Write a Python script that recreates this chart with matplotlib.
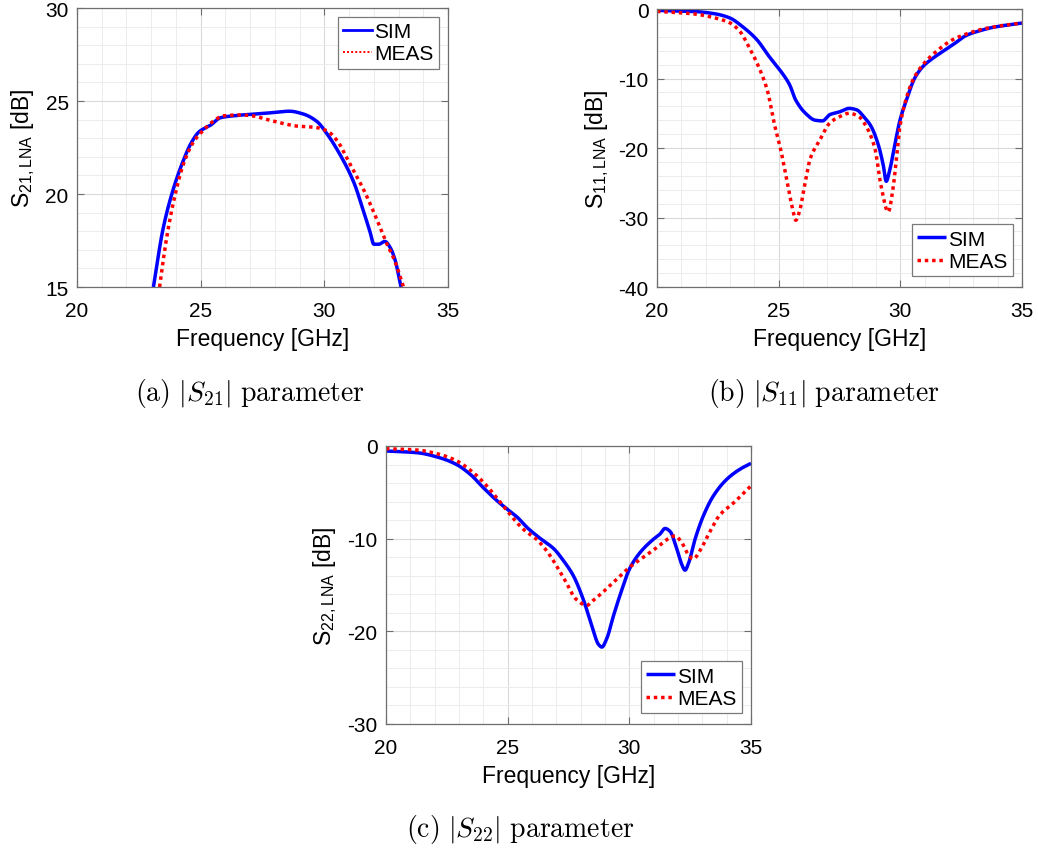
import numpy as np
import matplotlib
matplotlib.use("Agg")
import matplotlib.pyplot as plt
from matplotlib.ticker import MultipleLocator
from matplotlib.lines import Line2D

plt.rcParams['font.family'] = ['Liberation Sans', 'DejaVu Sans']
plt.rcParams['mathtext.fontset'] = 'custom'
plt.rcParams['mathtext.rm'] = 'Liberation Sans'
plt.rcParams['mathtext.it'] = 'Liberation Sans:italic'
plt.rcParams['axes.unicode_minus'] = False

# ---------------- data: S21 ----------------
s21_sim_f = [23.09, 23.23, 23.46, 23.79, 24.24, 24.64, 24.94, 25.4, 25.8, 26.3, 27.7, 28.6, 29.15,
             29.7, 30.1, 30.6, 31.2, 31.6, 31.84, 32.0, 32.2, 32.45, 32.65, 32.85, 33.1]
s21_sim_db = [15.0, 16.2, 18.0, 19.8, 21.6, 22.8, 23.35, 23.7, 24.1, 24.2, 24.35, 24.45, 24.3,
              23.9, 23.25, 22.2, 20.6, 19.0, 18.0, 17.3, 17.3, 17.45, 17.15, 16.5, 15.0]
s21_meas_f = [23.34, 23.46, 23.67, 23.94, 24.3, 24.71, 25.05, 25.5, 25.9, 26.6, 27.1, 27.7, 28.3,
              28.9, 29.55, 30.1, 30.5, 31.0, 31.6, 32.1, 32.5, 32.85, 33.2]
s21_meas_db = [15.0, 16.2, 18.0, 19.8, 21.6, 22.8, 23.35, 23.9, 24.2, 24.25, 24.2, 24.0, 23.8,
               23.65, 23.6, 23.4, 22.9, 21.7, 20.2, 18.7, 17.4, 16.4, 15.0]

# ---------------- data: S11 ----------------
s11_sim_f = [20.0, 21.5, 22.4, 23.0, 23.5, 24.1, 24.6, 25.2, 25.45, 25.7, 26.1, 26.5, 26.8, 27.1,
             27.5, 27.9, 28.2, 28.5, 28.8, 29.1, 29.3, 29.42, 29.55, 29.77, 29.97, 30.25, 30.59,
             30.93, 31.34, 31.75, 32.16, 32.71, 33.26, 33.81, 35.0]
s11_sim_db = [-0.2, -0.35, -0.7, -1.3, -2.5, -4.4, -6.8, -9.5, -10.9, -13.1, -15.0, -16.0, -16.1,
              -15.2, -14.8, -14.3, -14.5, -15.5, -16.9, -19.6, -22.5, -24.8, -23.4, -19.6, -16.2,
              -13.1, -9.95, -8.27, -7.07, -6.11, -5.14, -3.8, -3.13, -2.64, -2.02]
s11_meas_f = [20.0, 21.5, 22.4, 23.0, 23.4, 23.8, 24.2, 24.55, 24.8, 25.1, 25.4, 25.6, 25.7, 25.85,
              26.07, 26.3, 26.7, 27.1, 27.5, 27.9, 28.3, 28.6, 28.95, 29.2, 29.5, 29.7, 29.84,
              29.97, 30.25, 30.52, 30.93, 31.48, 32.16, 32.71, 33.26, 33.81, 35.0]
s11_meas_db = [-0.35, -0.7, -1.3, -2.0, -3.2, -5.6, -8.5, -11.9, -16.2, -20.5, -25.8, -29.2, -30.4,
               -29.2, -25.3, -21.5, -18.8, -16.4, -15.5, -15.0, -15.5, -16.9, -20.0, -25.3, -29.2,
               -25.8, -21.5, -17.2, -12.8, -10.2, -8.0, -6.1, -4.4, -3.6, -3.0, -2.6, -2.0]

# ---------------- data: S22 ----------------
s22_sim_f = [20.0, 21.27, 22.2, 22.9, 23.46, 24.0, 24.56, 24.97, 25.4, 25.8, 26.3, 26.9, 27.3,
             27.7, 28.1, 28.46, 28.73, 28.87, 29.07, 29.35, 29.7, 30.0, 30.44, 30.99, 31.26, 31.47,
             31.67, 31.95, 32.15, 32.29, 32.42, 32.7, 33.04, 33.45, 34.0, 34.55, 35.0]
s22_sim_db = [-0.54, -0.72, -1.26, -2.0, -3.05, -4.5, -5.9, -6.8, -7.7, -8.8, -9.9, -11.1, -12.4,
              -14.0, -16.5, -19.4, -21.4, -21.7, -20.8, -18.3, -15.45, -13.3, -11.5, -10.06, -9.5,
              -8.9, -9.2, -11.1, -12.75, -13.4, -12.75, -10.06, -7.55, -5.4, -3.6, -2.5, -1.87]
s22_meas_f = [20.0, 21.27, 22.2, 22.9, 23.6, 24.14, 24.7, 25.1, 25.65, 26.2, 26.6, 27.0, 27.4,
              27.8, 28.25, 28.5, 28.9, 29.47, 30.0, 30.58, 31.13, 31.67, 31.88, 32.15, 32.42,
              32.63, 32.9, 33.3, 33.7, 34.3, 35.0]
s22_meas_db = [-0.29, -0.43, -0.9, -1.6, -2.9, -4.3, -6.1, -7.4, -9.0, -10.1, -11.3, -12.9, -14.7,
               -16.5, -17.2, -16.7, -15.8, -14.4, -13.1, -12.0, -10.96, -9.9, -9.7, -10.4, -11.7,
               -12.2, -11.3, -9.3, -7.5, -6.1, -4.3]

x_ticks = [20, 25, 30, 35]
legend_labels = ['SIM', 'MEAS']
captions = [r'$\mathrm{(a)}\ |S_{21}|\ \mathrm{parameter}$',
            r'$\mathrm{(b)}\ |S_{11}|\ \mathrm{parameter}$',
            r'$\mathrm{(c)}\ |S_{22}|\ \mathrm{parameter}$']

W, H = 1038, 853
fig = plt.figure(figsize=(W / 100, H / 100), dpi=100)


def smooth(f, d):
    f = np.asarray(f, float)
    d = np.asarray(d, float)
    # monotone piecewise cubic (PCHIP-like) through the read points
    x = np.linspace(f[0], f[-1], 800)
    h = np.diff(f)
    delta = np.diff(d) / h
    m = np.zeros_like(d)
    m[0] = delta[0]
    m[-1] = delta[-1]
    for k in range(1, len(d) - 1):
        if delta[k - 1] * delta[k] <= 0:
            m[k] = 0
        else:
            w1 = 2 * h[k] + h[k - 1]
            w2 = h[k] + 2 * h[k - 1]
            m[k] = (w1 + w2) / (w1 / delta[k - 1] + w2 / delta[k])
    idx = np.clip(np.searchsorted(f, x) - 1, 0, len(f) - 2)
    t = (x - f[idx]) / h[idx]
    h00 = 2 * t**3 - 3 * t**2 + 1
    h10 = t**3 - 2 * t**2 + t
    h01 = -2 * t**3 + 3 * t**2
    h11 = t**3 - t**2
    y = h00 * d[idx] + h10 * h[idx] * m[idx] + h01 * d[idx + 1] + h11 * h[idx] * m[idx + 1]
    return x, y


def make_ax(rect_px, ylim, yticks, yminor, ylab, sim, meas, legloc, legbox, caption, cap_xy,
            thin_handles=False):
    l, t, r, b = rect_px
    ax = fig.add_axes([l / W, 1 - b / H, (r - l) / W, (b - t) / H])
    ax.set_xlim(20, 35)
    ax.set_ylim(*ylim)
    ax.set_xticks(x_ticks)
    ax.set_yticks(yticks)
    ax.xaxis.set_minor_locator(MultipleLocator(1))
    ax.yaxis.set_minor_locator(MultipleLocator(yminor))
    ax.grid(True, which='major', color='#d9d9d9', linewidth=0.8)
    ax.grid(True, which='minor', color='#ececec', linewidth=0.7)
    ax.set_axisbelow(True)
    for s in ax.spines.values():
        s.set_color('#6e6e6e')
        s.set_linewidth(0.9)
    ax.tick_params(which='both', direction='in', top=True, right=True, color='#6e6e6e')
    ax.tick_params(which='major', length=5, labelsize=15)
    ax.tick_params(axis='x', which='major', pad=10)
    ax.tick_params(axis='y', which='major', pad=6)
    ax.tick_params(which='minor', length=0)
    ax.set_xlabel('Frequency [GHz]', fontsize=16.5, labelpad=5)
    ax.set_ylabel(ylab, fontsize=16.5)
    xs, ys = smooth(*sim)
    xm, ym = smooth(*meas)
    l1, = ax.plot(xs, ys, color='#0000ff', lw=2.5, solid_capstyle='butt')
    l2, = ax.plot(xm, ym, color='#ff0000', lw=2.5, linestyle=(0, (1, 1.1)))
    if thin_handles:
        h1 = Line2D([], [], color='#0000ff', lw=2.0)
        h2 = Line2D([], [], color='#ff0000', lw=1.4, linestyle=(0, (1, 1.1)))
    else:
        h1, h2 = l1, l2
    leg = ax.legend([h1, h2], legend_labels, loc=legloc, bbox_to_anchor=legbox,
                    fontsize=15, frameon=True, fancybox=False, handlelength=1.4,
                    handletextpad=0.1, borderpad=0.25, labelspacing=0.15, borderaxespad=0)
    leg.get_frame().set_edgecolor('#7a7a7a')
    leg.get_frame().set_linewidth(0.9)
    leg.get_frame().set_alpha(1)
    fig.text(cap_xy[0] / W, 1 - cap_xy[1] / H, caption, ha='center', va='center',
             fontsize=20, math_fontfamily='cm')
    return ax


axa = make_ax((77, 9, 448, 288), (15, 30), [15, 20, 25, 30], 1,
              r'S$_{\mathrm{21,LNA}}$ [dB]', (s21_sim_f, s21_sim_db),
              (s21_meas_f, s21_meas_db), 'upper right',
              ((439 - 77) / 371, (288 - 18) / 279), captions[0], (250, 394),
              thin_handles=True)
axa.yaxis.set_label_coords(-0.108, 0.5)

axb = make_ax((657, 10, 1022, 288), (-40, 0), [-40, -30, -20, -10, 0], 2,
              r'S$_{\mathrm{11,LNA}}$ [dB]', (s11_sim_f, s11_sim_db),
              (s11_meas_f, s11_meas_db), 'lower right',
              ((1013 - 657) / 365, (288 - 277) / 278), captions[1], (824, 394))
axb.yaxis.set_label_coords(-0.125, 0.5)

axc = make_ax((386, 447, 751, 725), (-30, 0), [-30, -20, -10, 0], 2,
              r'S$_{\mathrm{22,LNA}}$ [dB]', (s22_sim_f, s22_sim_db),
              (s22_meas_f, s22_meas_db), 'lower right',
              ((742 - 386) / 365, (725 - 714) / 278), captions[2], (520, 830))
axc.yaxis.set_label_coords(-0.128, 0.5)

fig.savefig('out.png', dpi=100)
